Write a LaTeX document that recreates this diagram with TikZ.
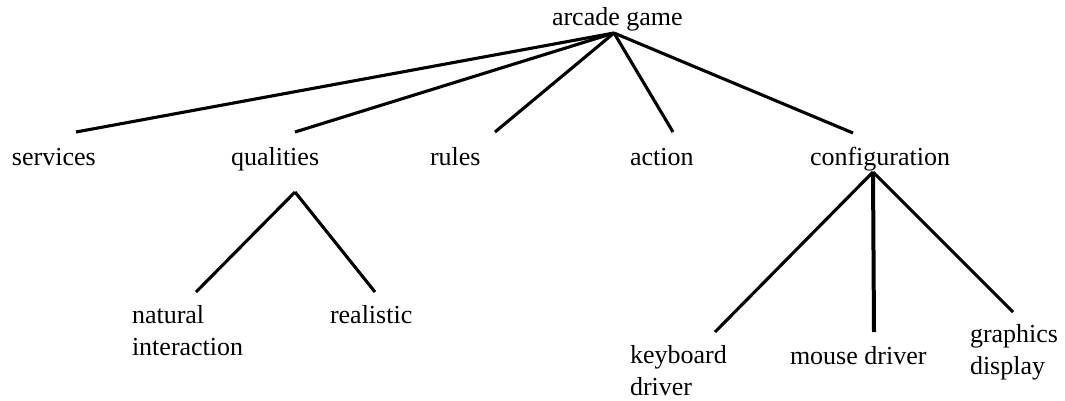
\documentclass[tikz,border=0pt]{standalone}
\usepackage{fontspec}
\setmainfont{Liberation Serif}
\begin{document}
\begin{tikzpicture}[x=1pt,y=-1pt,
  lbl/.style={inner sep=0pt,outer sep=0pt,anchor=base west,align=left,
    font=\fontsize{26}{32}\selectfont},
  branch/.style={line width=3.1pt},
  thick branch/.style={line width=4pt}]
\useasboundingbox (0,0) rectangle (1065,400);

% labels (two-line labels are placed by the baseline of their last line)
\node[lbl] (root) at (552,25) {arcade game};
\node[lbl] (services) at (12,165) {services};
\node[lbl] (qualities) at (231,165) {qualities};
\node[lbl] (rules) at (430,165) {rules};
\node[lbl] (action) at (630,165) {action};
\node[lbl] (config) at (810,165) {configuration};
\node[lbl] (natural) at (132,355) {natural\\interaction};
\node[lbl] (realistic) at (330,323) {realistic};
\node[lbl] (keyboard) at (630,395) {keyboard\\driver};
\node[lbl] (mouse) at (790,364) {mouse driver};
\node[lbl] (graphics) at (970,374) {graphics\\display};

% branch points and line ends
\coordinate (rootJ) at (614,33);
\coordinate (servicesT) at (76,132);
\coordinate (qualitiesT) at (295,132);
\coordinate (rulesT) at (495,132);
\coordinate (actionT) at (673,132);
\coordinate (configT) at (853,133);
\coordinate (qualitiesJ) at (295,192);
\coordinate (naturalT) at (196,292);
\coordinate (realisticT) at (375,292);
\coordinate (configJ) at (873,172);
\coordinate (keyboardT) at (715,332);
\coordinate (mouseT) at (874,332);
\coordinate (graphicsT) at (1013,312);

% connectors
\draw[branch] (rootJ) -- (servicesT);
\draw[branch] (rootJ) -- (qualitiesT);
\draw[branch] (rootJ) -- (rulesT);
\draw[branch] (rootJ) -- (actionT);
\draw[branch] (rootJ) -- (configT);
\draw[branch] (qualitiesJ) -- (naturalT);
\draw[branch] (qualitiesJ) -- (realisticT);
\draw[branch] (configJ) -- (keyboardT);
\draw[thick branch] (configJ) -- (mouseT);
\draw[branch] (configJ) -- (graphicsT);
\end{tikzpicture}
\end{document}
